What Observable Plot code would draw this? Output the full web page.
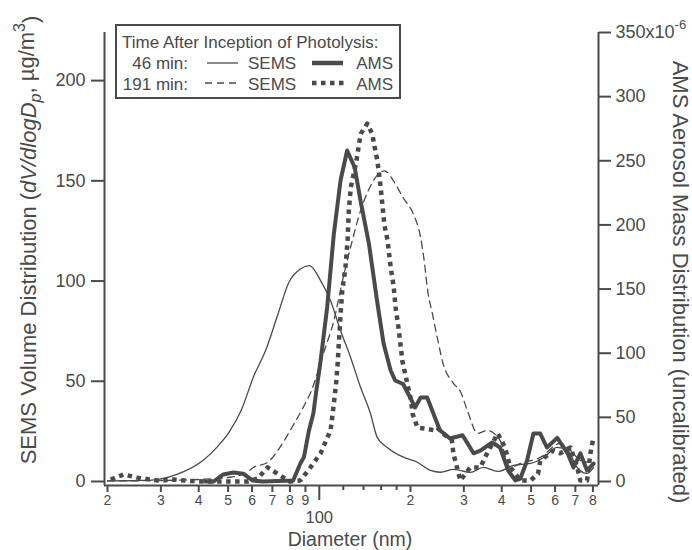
<!DOCTYPE html>
<html>
<head>
<meta charset="utf-8">
<script src="https://cdn.jsdelivr.net/npm/d3@7"></script>
<script src="https://cdn.jsdelivr.net/npm/@observablehq/plot@0.6"></script>
<style>
  html, body { margin: 0; padding: 0; background: #fff; }
  svg { display: block; }
</style>
</head>
<body>
<script>
// ---- data (diameter in nm) ----
const sems46D = [20, 25.3, 28.4, 33.9, 41.6, 45.9, 50.4, 55.2, 60.9, 66.5, 72.8, 79.4, 86.6, 92.9, 101, 108.9, 117.5, 126.8, 136.8, 147.6, 155.3, 167.6, 190.2, 210.5, 232.8, 251, 277, 315, 348, 388, 437, 498, 550, 610, 660, 710, 765, 804];
const sems46V = [0.3, 0.5, 0.8, 3.5, 10.8, 17, 24.6, 35.4, 52.9, 65.3, 82.8, 99.4, 106, 107.7, 100.2, 90.3, 75.3, 62, 47, 33.8, 22, 17, 12, 9.6, 5.5, 4.6, 6, 4.5, 7, 5, 8, 9, 12, 17, 15.5, 7, 4, 7];

const sems191D = [20, 30, 40, 50, 57, 60.6, 67.5, 75.6, 82, 88.5, 94, 103.8, 111.6, 120, 128.4, 136.8, 145, 155, 164, 178, 189, 204, 216, 222, 228, 236, 245, 256, 277, 292, 308, 333, 358, 395, 427, 461, 536, 624, 675, 727, 785];
const sems191V = [0.3, 0.5, 1, 2, 4, 7, 9.5, 19, 28, 37, 45, 65, 80, 102, 120, 135, 145, 152.6, 155, 148.6, 141.6, 133.7, 121.7, 110, 95, 84, 72, 59, 49, 45, 35.5, 24, 25.5, 20.5, 7, 9, 12, 19, 15.5, 10.5, 9.5];

// AMS values in units of 1e-6 (right axis)
const ams46D = [42, 44.8, 48.2, 52, 56.2, 60.2, 65, 82, 86.6, 89, 92.5, 95.6, 97.5, 101, 106.2, 111.7, 117.6, 123.6, 130.8, 136.8, 145.8, 155.3, 163, 172, 178, 189, 199.5, 207, 216, 227, 238, 250, 270, 297, 323, 340, 372, 395, 420, 444, 461, 485, 509, 536, 564, 610, 660, 690, 727, 765, 804];
const ams46V = [0, 0, 5.5, 7, 6, 0.8, 0, 0.8, 14, 19, 40, 53, 68.6, 94, 136, 193, 235, 258, 245, 219, 185.5, 140, 107.6, 86.5, 78.7, 76, 65.5, 57.7, 65.5, 65.5, 53, 40, 33.5, 36, 22, 24, 30.4, 26.5, 8.6, 0.8, 2.3, 16.4, 37.4, 37.4, 26.5, 34, 22, 11, 22, 8.6, 14];

const ams191D = [20.5, 22.6, 25.1, 29.3, 33, 37, 41.5, 46, 52, 58, 62.6, 67.5, 72.8, 80, 86.6, 93.5, 101, 109, 111.6, 113.5, 115, 117.6, 119, 122, 124, 125, 127, 132.6, 137, 144, 149.5, 152.5, 155.5, 159.5, 164, 168, 172, 176, 178.5, 183, 188, 192, 196.6, 201, 203, 211, 227, 238, 245, 256, 274, 277, 292, 315, 340, 358, 388, 410, 427, 461, 498, 527, 536, 590, 624, 675, 710, 727, 765, 785, 800];
const ams191V = [1.5, 5.5, 3, 0.8, 1.5, 0.5, 0, 0, 0, 0, 2.3, 11, 6, 0, 0.8, 11, 22, 40, 60, 75, 92, 131, 148, 167, 188, 209, 229, 250, 271, 279, 271, 260, 250, 229, 200, 188, 167, 152, 136, 118, 94, 84, 73, 63, 53, 42, 41, 40, 42, 37.4, 32, 22, 0.8, 11, 11, 22, 37.4, 26.5, 11, 0.8, 0.8, 6, 16, 24, 22, 26.5, 11, 0.8, 0.8, 22, 32];

const leftTicks = [0, 50, 100, 150, 200];
const rightTicks = [0, 50, 100, 150, 200, 250, 300, 350];
const xLabeledTicks = [20, 30, 40, 50, 60, 70, 80, 90, 200, 300, 400, 500, 600, 700, 800];
const xLabeledText = ["2", "3", "4", "5", "6", "7", "8", "9", "2", "3", "4", "5", "6", "7", "8"];
const xMinorTicks = [120, 140, 160, 180];
const xMajorTicks = [100];
const xMajorText = ["100"];

// ---- build ----
const k = 224 / 350; // right axis units -> left axis units
const toRows = (D, V, s = 1) => D.map((d, i) => ({d, v: V[i] * s}));
const s46 = toRows(sems46D, sems46V);
const s191 = toRows(sems191D, sems191V);
const a46 = toRows(ams46D, ams46V, k);
const a191 = toRows(ams191D, ams191V, k);
const xLab = xLabeledTicks.map((d, i) => ({d, t: xLabeledText[i]}));
const xMaj = xMajorTicks.map((d, i) => ({d, t: xMajorText[i]}));

const ink = "#4a4a4a";
const xmin = 19.55, xmax = 834.6;
const font = "'Liberation Sans', Arial, sans-serif";

const svg = Plot.plot({
  width: 692,
  height: 550,
  marginLeft: 104,
  marginRight: 94,
  marginTop: 32,
  marginBottom: 65,
  style: {fontFamily: font, color: ink, background: "#fff"},
  x: {type: "log", domain: [xmin, xmax], axis: null},
  y: {domain: [-2, 224], axis: null},
  marks: [
    Plot.line(s46, {x: "d", y: "v", stroke: ink, strokeWidth: 1.3, curve: "monotone-x"}),
    Plot.line(s191, {x: "d", y: "v", stroke: ink, strokeWidth: 1.3, strokeDasharray: "7,5", curve: "monotone-x"}),
    Plot.line(a46, {x: "d", y: "v", stroke: ink, strokeWidth: 4, strokeLinejoin: "round"}),
    Plot.line(a191, {x: "d", y: "v", stroke: ink, strokeWidth: 4.5, strokeDasharray: "4.5,4.5", strokeLinecap: "butt"}),
    Plot.ruleX([xmin], {stroke: ink, strokeWidth: 2}),
    Plot.ruleX([xmax], {stroke: ink, strokeWidth: 2}),
    Plot.ruleY([-2], {stroke: ink, strokeWidth: 2}),
    Plot.axisY({anchor: "left", ticks: leftTicks, tickSize: 13, tickPadding: 6, fontSize: 18, strokeWidth: 2, label: null}),
    Plot.axisY({anchor: "right", ticks: rightTicks.map(t => t * k), tickFormat: d => {
      const v = Math.round(d / k); return v === 350 ? "350x10" : String(v);
    }, tickSize: 12, tickPadding: 5, fontSize: 18, strokeWidth: 2, label: null}),
    Plot.axisX({ticks: xLabeledTicks, text: null, tickSize: 7, strokeWidth: 2, label: null}),
    Plot.axisX({ticks: xMinorTicks, text: null, tickSize: 5, strokeWidth: 2, label: null}),
    Plot.axisX({ticks: xMajorTicks, text: null, tickSize: 15, strokeWidth: 2, label: null}),
    Plot.text(xLab, {x: "d", text: "t", frameAnchor: "bottom", lineAnchor: "top", dy: 10, fontSize: 14, fill: ink}),
    Plot.text(xMaj, {x: "d", text: "t", frameAnchor: "bottom", lineAnchor: "top", dy: 26, fontSize: 16.5, fill: ink})
  ]
});
document.body.appendChild(svg);

const root = d3.select(svg);
// superscript on the top right tick label
root.selectAll("text").filter(function () { return this.textContent === "350x10"; })
  .append("tspan").attr("dy", "-0.75em").attr("font-size", 13).text("-6");

// Left axis title
const lt = root.append("text")
  .attr("transform", "translate(36,240) rotate(-90)")
  .attr("text-anchor", "middle").attr("font-family", font).attr("font-size", 22).attr("fill", ink);
lt.append("tspan").text("SEMS Volume Distribution (");
lt.append("tspan").attr("font-style", "italic").text("dV/dlogD");
lt.append("tspan").attr("font-style", "italic").attr("font-size", 16).attr("dy", "0.3em").text("p");
lt.append("tspan").attr("dy", "-0.3em").text(", µg/m");
lt.append("tspan").attr("font-size", 16).attr("dy", "-0.6em").text("3");
lt.append("tspan").attr("dy", "0.6em").text(")");

// Right axis title
root.append("text")
  .attr("transform", "translate(673,282) rotate(90)")
  .attr("text-anchor", "middle").attr("font-family", font).attr("font-size", 22).attr("fill", ink)
  .text("AMS Aerosol Mass Distribution (uncalibrated)");

// X axis title
root.append("text")
  .attr("x", 350).attr("y", 545.5)
  .attr("text-anchor", "middle").attr("font-family", font).attr("font-size", 19.5).attr("fill", ink)
  .text("Diameter (nm)");

// Legend
const lg = root.append("g").attr("font-family", font).attr("font-size", 17).attr("fill", ink).attr("text-anchor", "start");
lg.append("rect").attr("x", 116).attr("y", 25).attr("width", 284).attr("height", 73)
  .attr("fill", "#fff").attr("stroke", ink).attr("stroke-width", 2);
lg.append("text").attr("x", 122).attr("y", 48).text("Time After Inception of Photolysis:");
lg.append("text").attr("x", 188).attr("y", 68.5).attr("text-anchor", "end").text("46 min:");
lg.append("text").attr("x", 188).attr("y", 89.5).attr("text-anchor", "end").text("191 min:");
lg.append("line").attr("x1", 207).attr("x2", 238).attr("y1", 63).attr("y2", 63).attr("stroke", ink).attr("stroke-width", 1.3);
lg.append("line").attr("x1", 205).attr("x2", 240).attr("y1", 83).attr("y2", 83).attr("stroke", ink).attr("stroke-width", 1.3).attr("stroke-dasharray", "7,5");
lg.append("text").attr("x", 248).attr("y", 68.5).text("SEMS");
lg.append("text").attr("x", 248).attr("y", 89.5).text("SEMS");
lg.append("line").attr("x1", 312).attr("x2", 343).attr("y1", 63).attr("y2", 63).attr("stroke", ink).attr("stroke-width", 4.5);
lg.append("line").attr("x1", 312).attr("x2", 346).attr("y1", 83).attr("y2", 83).attr("stroke", ink).attr("stroke-width", 4.5).attr("stroke-dasharray", "4.5,4.5");
lg.append("text").attr("x", 393).attr("y", 68.5).attr("text-anchor", "end").text("AMS");
lg.append("text").attr("x", 393).attr("y", 89.5).attr("text-anchor", "end").text("AMS");
</script>
</body>
</html>
